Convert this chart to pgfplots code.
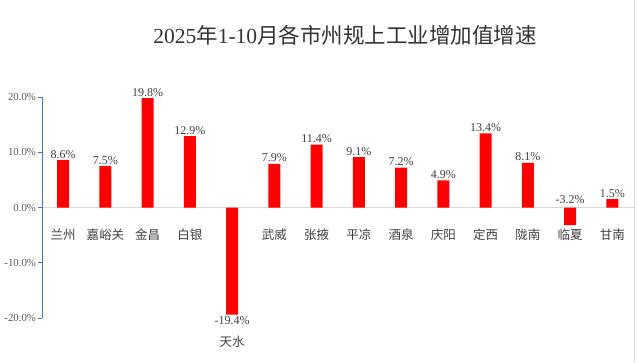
\documentclass[border=0pt]{standalone}
\usepackage{fontspec}
\setmainfont{Liberation Serif}
\newfontfamily\cjk{Noto Sans CJK SC}
\usepackage{pgfplots}
\pgfplotsset{compat=1.18}
\definecolor{barred}{HTML}{FF0000}
\definecolor{axblue}{HTML}{4472C4}
\definecolor{zerogrey}{HTML}{D9D9D9}
\definecolor{ticktxt}{HTML}{595959}
\definecolor{cattxt}{HTML}{404040}
\definecolor{titletxt}{HTML}{333333}
\begin{document}
\begin{tikzpicture}
\useasboundingbox (0,0) rectangle (637pt,362pt);
\fill[white] (0,0) rectangle (637pt,362pt);
\draw[zerogrey, line width=0.8pt] (634.5pt,0) -- (634.5pt,362pt);
\node[text=titletxt, font=\fontsize{21.5}{25}\selectfont] at (345pt,327pt)
  {2025{\cjk 年}1-10{\cjk 月各市州规上工业增加值增速}};
\begin{axis}[
  at={(42pt,44pt)}, anchor=south west,
  scale only axis, width=591.5pt, height=221pt,
  xmin=-0.5, xmax=13.5, ymin=-20, ymax=20,
  clip=false,
  /pgf/number format/assume math mode=true,
  axis x line*=middle,
  axis y line*=left,
  x axis line style={zerogrey, line width=0.8pt, -},
  y axis line style={axblue, line width=0.8pt, -},
  ytick={-20,-10,0,10,20},
  yticklabel={\pgfmathprintnumber[fixed,fixed zerofill,precision=1]{\tick}\%},
  yticklabel style={text=ticktxt, font=\fontsize{10.8}{12}\selectfont, xshift=1.5pt},
  ytick style={axblue, line width=0.8pt},
  tick align=outside,
  major tick length=4pt,
  xtick={0,...,13},
  xtick style={draw=none},
  xticklabels={兰州,嘉峪关,金昌,白银,,武威,张掖,平凉,酒泉,庆阳,定西,陇南,临夏,甘南},
  xticklabel style={text=cattxt, font=\cjk\fontsize{12.5}{14}\selectfont, yshift=-14pt},
  ybar, bar width=12pt,
  nodes near coords={\pgfmathprintnumber[fixed,fixed zerofill,precision=1]{\pgfplotspointmeta}\%},
  every node near coord/.append style={text=cattxt, font=\fontsize{12}{14}\selectfont, inner sep=1.5pt},
]
\addplot[fill=barred, draw=none, bar shift=0pt] coordinates {
  (0,8.6) (1,7.5) (2,19.8) (3,12.9) (5,7.9) (6,11.4) (7,9.1)
  (8,7.2) (9,4.9) (10,13.4) (11,8.1) (13,1.5)
};
\addplot[fill=barred, draw=none, bar shift=0pt, nodes near coords=\empty] coordinates {
  (4,-19.4) (12,-3.2)
};
\node[text=cattxt, font=\fontsize{12}{14}\selectfont, anchor=north, inner sep=1.5pt] at (axis cs:4,-19.4) {-19.4\%};
\node[text=cattxt, font=\cjk\fontsize{12.5}{14}\selectfont] at (axis cs:4,-19.4) [yshift=-27pt] {天水};
\node[text=cattxt, font=\fontsize{12}{14}\selectfont, anchor=south, inner sep=1.5pt] at (axis cs:12,0) [yshift=2pt] {-3.2\%};
\end{axis}
\end{tikzpicture}
\end{document}
